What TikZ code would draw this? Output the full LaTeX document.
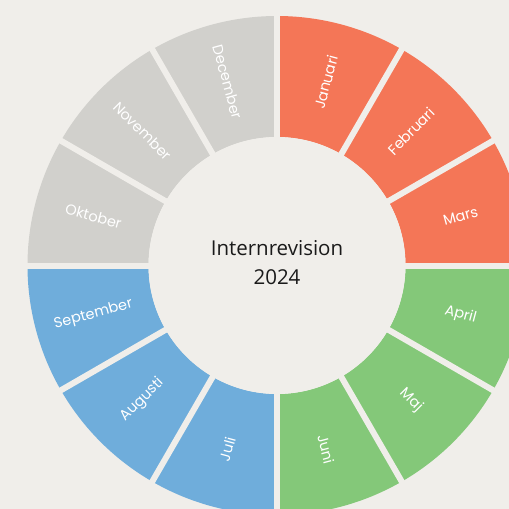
\documentclass[tikz,border=0pt]{standalone}
\usepackage{fontspec}
\setmainfont{Open Sans}
\newfontfamily\monthfont{Poppins}
\definecolor{bg}{HTML}{F0EEEA}
\definecolor{orangeseg}{HTML}{F47657}
\definecolor{greenseg}{HTML}{84C879}
\definecolor{blueseg}{HTML}{6FADDB}
\definecolor{grayseg}{HTML}{D1D0CC}
\definecolor{titletext}{HTML}{1A1A1A}
\tikzset{
  monthlabel/.style={text=white, font=\monthfont\fontsize{14.5}{16}\selectfont, inner sep=0pt},
  separator/.style={draw=bg, line width=6pt}
}
\begin{document}
\begin{tikzpicture}[x=1pt,y=1pt]
\useasboundingbox (-277,-243.5) rectangle (232,265.5);
\clip (-277,-243.5) rectangle (232,265.5);
\fill[bg] (-277,-243.5) rectangle (232,265.5);
\foreach \i/\col in {0/orangeseg,1/orangeseg,2/orangeseg,3/greenseg,4/greenseg,5/greenseg,6/blueseg,7/blueseg,8/blueseg,9/grayseg,10/grayseg,11/grayseg} {
  \pgfmathsetmacro\aa{90-30*\i}
  \pgfmathsetmacro\ab{60-30*\i}
  \fill[\col] (\aa:128.5) arc[start angle=\aa, end angle=\ab, radius=128.5] -- (\ab:249.5) arc[start angle=\ab, end angle=\aa, radius=249.5] -- cycle;
}
\foreach \i in {0,...,11} \draw[separator] (0,0) -- (30*\i:262);
\fill[bg] (0,0) circle (128.5);
\foreach \i/\name/\rot in {0/Januari/75, 1/Februari/45, 2/Mars/15, 3/April/-15, 4/Maj/-45, 5/Juni/-75, 6/Juli/75, 7/Augusti/45, 8/September/15, 9/Oktober/-15, 10/November/-45, 11/December/-75} {
  \pgfmathsetmacro\am{75-30*\i}
  \node[monthlabel, rotate=\rot] (m\i) at (\am:190) {\name};
}
\node[align=center, text=titletext, font=\fontsize{20.5}{29}\selectfont] (title) at (0,3) {Internrevision\\2024};
\end{tikzpicture}
\end{document}
